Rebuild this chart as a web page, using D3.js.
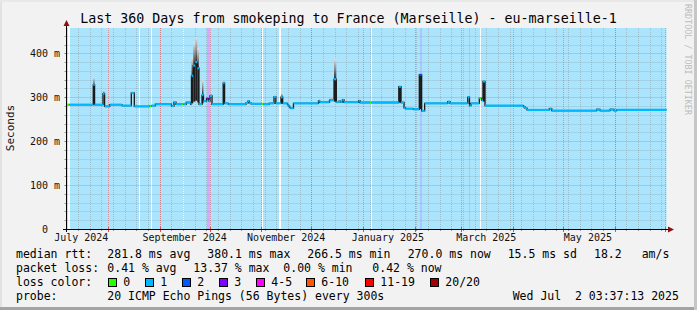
<!DOCTYPE html>
<html><head><meta charset="utf-8">
<script src="https://cdn.jsdelivr.net/npm/d3@7"></script>
<style>
html,body{margin:0;padding:0;background:#f2f2f2;}
svg{display:block;}
text{font-family:"DejaVu Sans Mono",monospace;white-space:pre;}
</style></head><body>
<svg id="c" width="697" height="310"></svg>
<script>
// ---------- data ----------
const startTime = "2024-07-07T03:37";
const endTime   = "2025-07-02T03:37";
const segStart = ["2024-07-07T03:37","2024-07-08T23","2024-07-23T05","2024-07-24T00","2024-07-29T01","2024-07-30T00","2024-08-02T02","2024-08-09T11","2024-08-15T01","2024-08-16T20","2024-08-25T23","2024-08-27T01","2024-08-29T11","2024-09-08T03","2024-09-09T15","2024-09-10T20","2024-09-14T11","2024-09-15T08","2024-09-17T00","2024-09-19T16","2024-09-20T03","2024-09-21T05","2024-09-22T10","2024-09-23T15","2024-09-24T15","2024-09-26T11","2024-09-27T08","2024-09-29T03","2024-09-30T08","2024-10-01T06","2024-10-02T11","2024-10-09T04","2024-10-10T00","2024-10-12T08","2024-10-22T20","2024-10-24T01","2024-10-24T20","2024-10-25T20","2024-11-01T01","2024-11-02T01","2024-11-05T16","2024-11-08T16","2024-11-09T18","2024-11-12T20","2024-11-13T21","2024-11-16T18","2024-11-17T08","2024-11-17T23","2024-11-18T13","2024-11-20T08","2024-12-05T08","2024-12-06T02","2024-12-11T23","2024-12-14T16","2024-12-16T01","2024-12-17T16","2024-12-18T16","2024-12-19T18","2024-12-20T16","2024-12-29T09","2024-12-30T06","2025-01-05T06","2025-01-06T07","2025-01-22T13","2025-01-23T21","2025-01-25T16","2025-01-26T13","2025-01-31T05","2025-02-03T20","2025-02-05T06","2025-02-07T01","2025-02-20T21","2025-02-22T06","2025-03-04T22","2025-03-05T23","2025-03-06T20","2025-03-11T20","2025-03-13T04","2025-03-14T01","2025-03-15T06","2025-04-07T09","2025-04-08T06","2025-04-09T11","2025-04-22T20","2025-04-24T07","2025-05-21T07","2025-05-23T06","2025-05-29T06","2025-05-31T15","2025-06-02T06"];
const segMedian = [283,283,328,283,308,279,283,281,310,279,280,281,284,280,289,284,284,284,288,284,349,372,380,366,284,305,291,297,291,303,284,332,286,284,287,291,287,285,285,284,286,301,286,300,286,283,280,277,275,286,291.6,288.6,293,341,289,291,289,294,288.6,292,288,288,288,324,288,276,274,272.6,351,269,286,290,286,300,281,286,298,293,336,281,278,275,271,274,269.5,272,269.5,272,269.5,271];
const segLoss = [0,1,1,1,1,1,1,1,1,1,0,1,1,1,1,1,0,1,1,1,1,1,1,1,1,1,1,3,1,1,1,1,1,1,1,1,1,1,0,1,1,1,1,1,1,1,1,1,1,1,1,1,1,1,1,1,1,1,1,1,1,0,1,1,1,1,1,1,2,1,1,1,1,1,1,1,0,1,1,1,1,1,1,1,1,1,1,1,1,1];
const segSmokeLo = [null,null,283,null,null,null,null,null,null,null,null,null,null,null,null,null,null,null,null,null,286,290,292,288,null,286,null,null,null,null,null,284,null,null,null,null,null,null,null,null,null,null,null,286,null,null,null,null,null,null,null,null,null,290,null,null,null,null,null,null,null,null,null,288,null,null,null,null,273,null,null,null,null,null,null,null,null,null,290,null,null,null,null,null,null,null,null,null,null,null];
const segSmokeHi = [null,null,345,null,315,null,null,null,313,null,null,null,null,null,null,null,null,null,null,null,390,425,437,412,null,340,null,null,null,308,null,337,null,null,null,null,null,null,null,null,null,303,null,309,null,null,null,null,null,null,null,null,298,388,null,null,null,null,null,null,null,null,null,326,null,null,null,null,353,null,null,null,null,302,null,null,null,null,338,null,null,null,null,null,null,null,null,null,null,null];

// background loss intervals (everything else is loss class 1)
const bgStart = ["2024-07-08T05","2024-08-19T12","2024-08-26T16","2024-09-14T19","2024-09-29T11","2024-11-01T05","2024-11-11T20","2025-01-05T21","2025-02-04T01","2025-03-05T16","2025-03-12T03"];
const bgEnd   = ["2024-07-09T00","2024-08-20T06","2024-08-27T11","2024-09-15T15","2024-10-01T01","2024-11-02T01","2024-11-12T15","2025-01-06T15","2025-02-05T06","2025-03-06T10","2025-03-12T23"];
const bgLoss  = [0,0,0,0,3,0,0,0,2,2,0];

const yTicks = [0,100,200,300,400];
const yTickLabels = ["0","100 m","200 m","300 m","400 m"];
const monthLabelDates = ["2024-07-01","2024-09-01","2024-11-01","2025-01-01","2025-03-01","2025-05-01"];
const monthLabels = ["July 2024","September 2024","November 2024","January 2025","March 2025","May 2025"];

const lossNames  = ["0","1","2","3","4-5","6-10","11-19","20/20"];
const lossColors = ["#26ff00","#00b8ff","#0059ff","#7e00ff","#ff00ff","#ff5500","#ff0000","#a10000"];
const lossBgColors = [null,"#aae5fd","#aac6ff","#d4aaff","#ffaaff","#ffc6aa","#ffaaaa","#e0aaaa"];

const title = "Last 360 Days from smokeping to France (Marseille) - eu-marseille-1";
const statRow1 = ["median rtt:","281.8 ms avg","380.1 ms max","266.5 ms min","270.0 ms now","15.5 ms sd","18.2","am/s"];
const statRow2 = ["packet loss:","0.41 % avg","13.37 % max","0.00 % min","0.42 % now"];
const probeRow = ["probe:","20 ICMP Echo Pings (56 Bytes) every 300s","Wed Jul  2 03:37:13 2025"];
const yAxisTitle = "Seconds";
const watermark = "RRDTOOL / TOBI OETIKER";

// ---------- drawing ----------
const fmtM = d3.timeParse("%Y-%m-%dT%H:%M"), fmtH = d3.timeParse("%Y-%m-%dT%H"), fmtD = d3.timeParse("%Y-%m-%d");
const parse = s => fmtM(s) || fmtH(s) || fmtD(s);
const t0 = parse(startTime), t1 = parse(endTime);
const L = 66.5, R = 666.5, T = 28, B = 229;
const x = d3.scaleTime().domain([t0,t1]).range([L,R]);
const y = d3.scaleLinear().domain([0,457.6]).range([B,T]);
const svg = d3.select("#c");

// canvas + frame
svg.append("rect").attr("width",697).attr("height",310).attr("fill","#f2f2f2");
svg.append("rect").attr("x",0).attr("y",307).attr("width",697).attr("height",3).attr("fill","#a4a4a4");
svg.append("rect").attr("x",694).attr("y",0).attr("width",3).attr("height",310).attr("fill","#c6c6c6");
svg.append("rect").attr("x",0).attr("y",0).attr("width",2).attr("height",307).attr("fill","#e2e2e2");
svg.append("rect").attr("x",0).attr("y",0).attr("width",694).attr("height",2).attr("fill","#e8e8e8");

// plot background
svg.append("rect").attr("x",L).attr("y",T).attr("width",R-L).attr("height",B-T).attr("fill",lossBgColors[1]);
const bgG = svg.append("g").attr("shape-rendering","crispEdges");
bgStart.forEach((s,i)=>{
  const xa = x(parse(s)), xb = x(parse(bgEnd[i]));
  bgG.append("rect").attr("x",xa).attr("y",T).attr("width",Math.max(1,xb-xa)).attr("height",B-T)
    .attr("fill", bgLoss[i]===0 ? "#ffffff" : lossBgColors[bgLoss[i]]);
});

// grid
const gridG = svg.append("g");
const px = v => Math.round(v)+0.5;
const minorCol = "rgba(120,120,120,0.34)", majorCol = "rgba(255,40,40,0.42)";
d3.range(20,457,20).filter(v=>v%100!==0).forEach(v=>{
  gridG.append("line").attr("x1",L).attr("x2",R).attr("y1",px(y(v))).attr("y2",px(y(v)))
    .attr("stroke",minorCol).attr("stroke-dasharray","1,1");
});
const weeks = d3.timeSunday.range(t0,t1);
weeks.forEach(d=>{
  gridG.append("line").attr("x1",px(x(d))).attr("x2",px(x(d))).attr("y1",T).attr("y2",B)
    .attr("stroke",minorCol).attr("stroke-dasharray","1,1");
});
yTicks.filter(v=>v>0).forEach(v=>{
  gridG.append("line").attr("x1",L).attr("x2",R).attr("y1",px(y(v))).attr("y2",px(y(v)))
    .attr("stroke",majorCol).attr("stroke-dasharray","1,1");
});
const months = d3.timeMonth.range(t0,t1);
months.forEach(d=>{
  gridG.append("line").attr("x1",px(x(d))).attr("x2",px(x(d))).attr("y1",T).attr("y2",B)
    .attr("stroke",majorCol).attr("stroke-dasharray","1,1");
});
// ticks on the axes
weeks.forEach(d=>{
  gridG.append("line").attr("x1",px(x(d))).attr("x2",px(x(d))).attr("y1",B).attr("y2",B+2).attr("stroke","#999");
});
months.forEach(d=>{
  gridG.append("line").attr("x1",px(x(d))).attr("x2",px(x(d))).attr("y1",B-2).attr("y2",B+3).attr("stroke","#e05050");
});
d3.range(20,457,20).forEach(v=>{
  gridG.append("line").attr("x1",L-2).attr("x2",L).attr("y1",px(y(v))).attr("y2",px(y(v)))
    .attr("stroke", v%100===0 ? "#e05050":"#999");
});

// segments
const segs = segStart.map((s,i)=>({
  a: parse(s), b: i<segStart.length-1 ? parse(segStart[i+1]) : t1,
  m: segMedian[i], loss: segLoss[i], lo: segSmokeLo[i], hi: segSmokeHi[i]
}));

// smoke
const defs = svg.append("defs");
const gr = defs.append("linearGradient").attr("id","smk").attr("x1",0).attr("y1",1).attr("x2",0).attr("y2",0);
gr.append("stop").attr("offset","0").attr("stop-color","#2a2a2a");
gr.append("stop").attr("offset","0.5").attr("stop-color","#8a8a8a");
gr.append("stop").attr("offset","1").attr("stop-color","#e2e2e2");
const smokeG = svg.append("g");
segs.filter(d=>d.hi!==null).forEach(d=>{
  const xa = x(d.a), w = Math.max(1.2, x(d.b)-xa);
  smokeG.append("rect").attr("x",xa).attr("width",w).attr("y",y(d.hi)).attr("height",y(d.m)-y(d.hi)).attr("fill","url(#smk)");
  if (d.lo!==null)
    smokeG.append("rect").attr("x",xa).attr("width",w).attr("y",y(d.m)).attr("height",y(d.lo)-y(d.m)).attr("fill","#1e1e1e");
});

// median thin dark step line
const pts = segs.map(d=>[d.a,d.m]).concat([[t1, segs[segs.length-1].m]]);
svg.append("path").datum(pts)
  .attr("d", d3.line().x(d=>x(d[0])).y(d=>y(d[1])).curve(d3.curveStepAfter))
  .attr("fill","none").attr("stroke","#1a1a1a").attr("stroke-width",1.3);

// loss-colored median segments
const medG = svg.append("g");
segs.forEach(d=>{
  const xa = x(d.a), xb = Math.max(x(d.b), xa+1.2);
  medG.append("line").attr("x1",xa).attr("x2",xb).attr("y1",y(d.m)).attr("y2",y(d.m))
    .attr("stroke",lossColors[d.loss]).attr("stroke-width",2.2);
});

// axes
const axG = svg.append("g");
axG.append("line").attr("x1",63).attr("x2",670).attr("y1",B+0.5).attr("y2",B+0.5).attr("stroke","#000");
axG.append("line").attr("x1",L).attr("x2",L).attr("y1",B+3).attr("y2",23).attr("stroke","#000");
axG.append("path").attr("d",`M${L-3},26 L${L+3},26 L${L},20 Z`).attr("fill","#8c1010");
axG.append("path").attr("d",`M668,${B-2.5} L668,${B+3.5} L674,${B+0.5} Z`).attr("fill","#8c1010");

// y labels
yTicks.forEach((v,i)=>{
  svg.append("text").attr("x", v===0 ? 48 : 60).attr("y", y(v)+3.5).attr("text-anchor","end")
    .attr("font-size","10px").attr("fill","#111").text(yTickLabels[i]);
});
// x labels (centered mid-month, rrdtool style)
monthLabelDates.forEach((s,i)=>{
  const d = d3.timeDay.offset(parse(s),15);
  svg.append("text").attr("x",x(d)).attr("y",241).attr("text-anchor","middle")
    .attr("font-size","10px").attr("fill","#111").text(monthLabels[i]);
});

// title, axis title, watermark
svg.append("text").attr("x",348.5).attr("y",23).attr("text-anchor","middle").attr("font-size","13.3px").attr("fill","#000").text(title);
svg.append("text").attr("transform","translate(14,128) rotate(-90)").attr("text-anchor","middle")
  .attr("font-size","11px").attr("fill","#111").text(yAxisTitle);
svg.append("text").attr("transform","translate(685,4) rotate(90)").attr("font-size","8.4px").attr("fill","#bdbdbd").text(watermark);

// legend
const lf = "11.5px";
const row1X = [16,107.3,207.3,307.3,407.7,507.7,594,641.7];
statRow1.forEach((s,i)=>svg.append("text").attr("x",row1X[i]).attr("y",258.3).attr("font-size",lf).text(s));
const row2X = [16,107.3,193.3,283.3,372.3];
statRow2.forEach((s,i)=>svg.append("text").attr("x",row2X[i]).attr("y",272.3).attr("font-size",lf).text(s));
svg.append("text").attr("x",16).attr("y",286).attr("font-size",lf).text("loss color:");
const boxX = [108.5,145.5,182.5,219.5,256.5,306.5,365.5,430.5];
lossNames.forEach((n,i)=>{
  svg.append("rect").attr("x",boxX[i]).attr("y",278.5).attr("width",8).attr("height",8)
    .attr("fill",lossColors[i]).attr("stroke","#000").attr("stroke-width",1);
  svg.append("text").attr("x",boxX[i]+14.8).attr("y",286).attr("font-size",lf).text(n);
});
const row4X = [16,107.3,512.7];
probeRow.forEach((s,i)=>svg.append("text").attr("x",row4X[i]).attr("y",300).attr("font-size",lf).text(s));
</script>
</body></html>
